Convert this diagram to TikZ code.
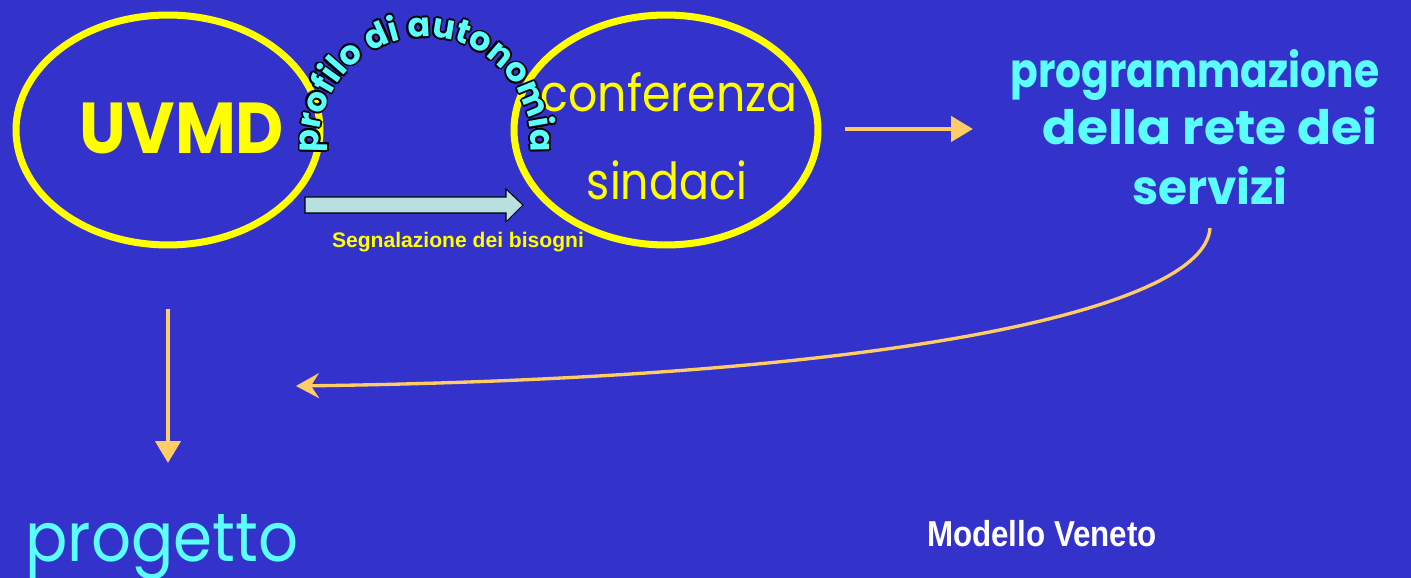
\documentclass[tikz,border=0pt]{standalone}
\usepackage{fontspec}
\setmainfont{Poppins}
\newfontfamily\comic{Poppins}
\newfontfamily\arialb{Liberation Sans}
\usetikzlibrary{shapes.geometric,arrows.meta,decorations.text}
\definecolor{bgblue}{RGB}{51,51,204}
\definecolor{ylw}{RGB}{255,255,0}
\definecolor{cyantext}{RGB}{92,255,255}
\definecolor{orng}{RGB}{255,204,102}
\definecolor{blockfill}{RGB}{184,224,224}
\tikzset{
  ring/.style={ellipse, draw=ylw, line width=4pt, minimum width=6.08cm, minimum height=4.6cm, inner sep=0pt},
  ytext/.style={text=ylw, inner sep=0pt, anchor=base, font=\comic},
  ctext/.style={text=cyantext, inner sep=0pt, anchor=base, font=\comic},
  oarrow/.style={draw=orng, line width=2.6pt, -{Triangle[length=0.44cm,width=0.5cm]}},
  carrow/.style={draw=orng, line width=1.9pt, -{Stealth[length=0.46cm,width=0.5cm,inset=0.16cm]}},
}
\begin{document}
\begin{tikzpicture}[x=0.02cm,y=0.02cm]
\useasboundingbox (0,0) rectangle (1411,578);
\fill[bgblue] (0,0) rectangle (1411,578);
% ellipses
\node[ring] (e1) at (168,448) {};
\node[ring] (e2) at (666,448) {};
% texts
\node[ytext, xscale=0.92, font=\comic\bfseries\fontsize{41}{41}\selectfont] (uvmd) at (182,424) {UVMD};
\node[ytext, xscale=0.9, font=\comic\fontsize{29}{29}\selectfont] (conf) at (669,466) {conferenza};
\node[ytext, xscale=0.87, font=\comic\fontsize{29}{29}\selectfont] (sind) at (667,378) {sindaci};
\node[ctext, xscale=0.86, font=\comic\bfseries\fontsize{27}{27}\selectfont] (prog1) at (1195,490) {programmazione};
\node[ctext, xscale=1.06, font=\comic\bfseries\fontsize{27}{27}\selectfont] (prog2) at (1210,433) {della rete dei};
\node[ctext, xscale=0.99, font=\comic\bfseries\fontsize{27}{27}\selectfont] (prog3) at (1210,373) {servizi};
\node[ctext, xscale=0.915, font=\comic\fontsize{39}{39}\selectfont] (progetto) at (162,16) {progetto};
\node[text=ylw, inner sep=0pt, anchor=base, font=\arialb\bfseries\fontsize{12}{12}\selectfont] (segn) at (458,330) {Segnalazione dei bisogni};
\node[text=white, inner sep=0pt, anchor=base, xscale=0.87, font=\arialb\bfseries\fontsize{20.5}{20.5}\selectfont] (modello) at (1042,31) {Modello Veneto};
% block arrow
\filldraw[fill=blockfill, draw=black, line width=0.6pt]
  (305,365) -- (506,365) -- (506,356) -- (523,373) -- (506,389) -- (506,381) -- (305,381) -- cycle;
% arc text: black outline copies, then cyan
\foreach \dx/\dy in {1.8/0,-1.8/0,0/1.8,0/-1.8,1.3/1.3,1.3/-1.3,-1.3/1.3,-1.3/-1.3}{
  \path[shift={(\dx,\dy)}, decorate, decoration={text along path, text align=fit to path, text color=black,
    text={|\comic\bfseries\fontsize{19}{19}\selectfont|profilo di autonomia}}]
    (425,435) ++(185:106) arc[start angle=185, end angle=-5, radius=2.12cm];
}
\path[decorate, decoration={text along path, text align=fit to path, text color=cyantext,
    text={|\comic\bfseries\fontsize{19}{19}\selectfont|profilo di autonomia}}]
    (425,435) ++(185:106) arc[start angle=185, end angle=-5, radius=2.12cm];
% connectors
\coordinate (a1s) at (845,449);
\coordinate (a1e) at (973,449);
\draw[oarrow] (a1s) -- (a1e);
\coordinate (a2s) at (168,269);
\coordinate (a2e) at (168,115);
\draw[oarrow] (a2s) -- (a2e);
\coordinate (a3s) at (1210,350);
\coordinate (a3e) at (296,192);
\draw[carrow] (a3s) .. controls (1205,270) and (900,200) .. (a3e);
\end{tikzpicture}
\end{document}
